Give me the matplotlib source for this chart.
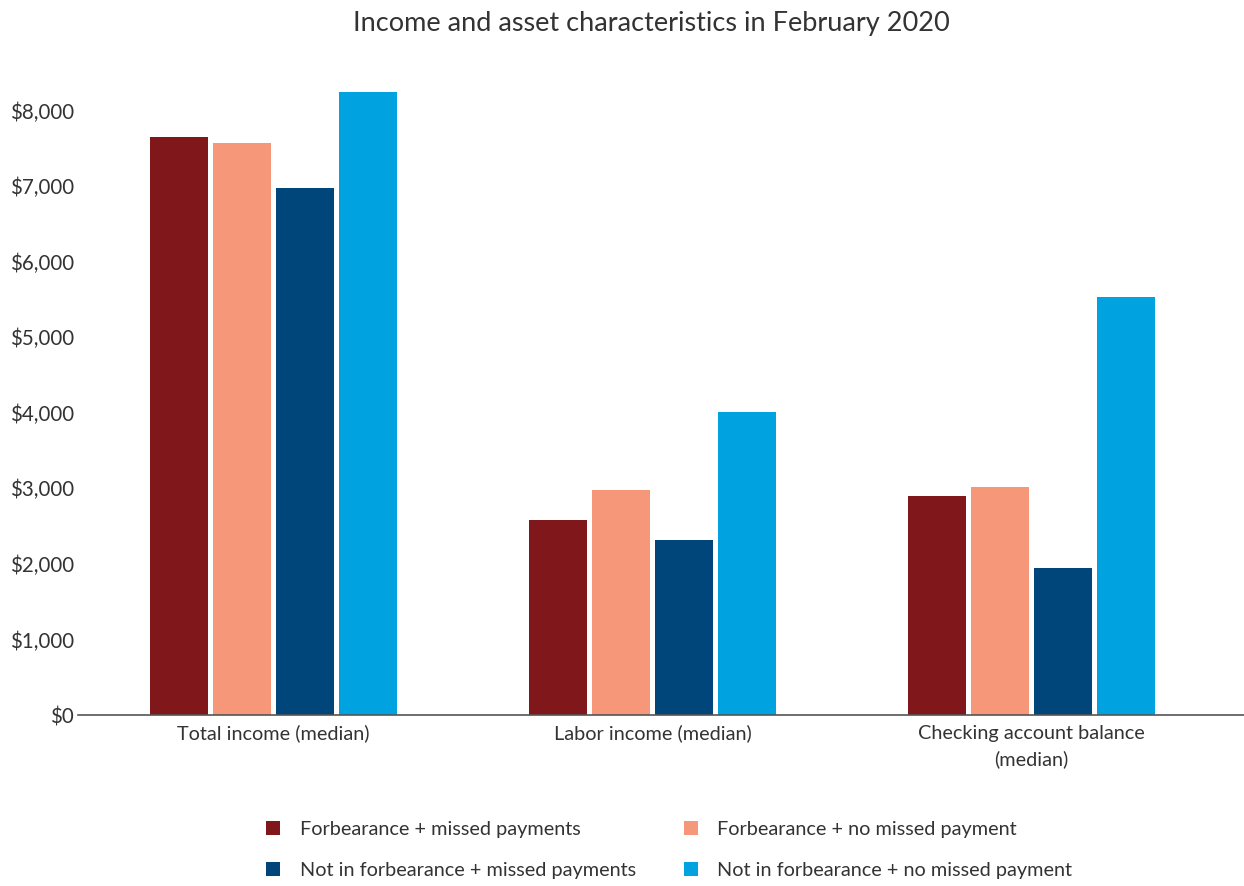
import matplotlib
matplotlib.use("Agg")
import matplotlib.pyplot as plt
import numpy as np
from matplotlib.ticker import FuncFormatter

categories = ["Total income (median)", "Labor income (median)", "Checking account balance\n(median)"]
series_names = ["Forbearance + missed payments", "Forbearance + no missed payment",
                "Not in forbearance + missed payments", "Not in forbearance + no missed payment"]
forb_missed = [7650, 2580, 2900]
forb_nomissed = [7570, 2975, 3015]
notforb_missed = [6970, 2315, 1945]
notforb_nomissed = [8250, 4005, 5530]
colors = ["#7F171B", "#F7977A", "#00467A", "#00A3E0"]
yticks = [0, 1000, 2000, 3000, 4000, 5000, 6000, 7000, 8000]

plt.rcParams['font.family'] = ['Lato', 'DejaVu Sans']

fig = plt.figure(figsize=(12.44, 8.86), dpi=100)
ax = fig.add_axes([0.0627, 0.193, 0.9373, 0.725])

x = np.arange(len(categories))
slot = 0.166
width = 0.153
handles = []
for i, (vals, c, name) in enumerate(zip([forb_missed, forb_nomissed, notforb_missed, notforb_nomissed], colors, series_names)):
    b = ax.bar(x + (i - 1.5) * slot, vals, width, color=c, label=name)
    handles.append(b)

ax.set_xlim(-0.515, 2.56)
ax.set_ylim(0, 8500)
ax.set_yticks(yticks)
ax.yaxis.set_major_formatter(FuncFormatter(lambda v, p: f"${v:,.0f}"))
ax.set_xticks(x)
ax.set_xticklabels(categories, linespacing=1.55, ha="center", multialignment="center")
for s in ["top", "right", "left"]:
    ax.spines[s].set_visible(False)
ax.spines["bottom"].set_color("#555555")
ax.spines["bottom"].set_linewidth(1.2)
ax.tick_params(axis="y", length=0, labelsize=14.8, labelcolor="#333333", pad=3)
ax.tick_params(axis="x", length=0, labelsize=14.3, labelcolor="#333333", pad=7)

fig.suptitle("Income and asset characteristics in February 2020", x=0.524, y=0.988, fontsize=19.5, color="#333333")

order = [0, 2, 1, 3]
leg = fig.legend([handles[i] for i in order], [series_names[i] for i in order],
                 ncol=2, loc="center", bbox_to_anchor=(0.538, 0.0405), frameon=False,
                 fontsize=14.3, handlelength=0.7, handleheight=0.7, handletextpad=1.0,
                 columnspacing=2.4, labelspacing=1.2, labelcolor="#333333")

fig.savefig("out.png", dpi=100)
